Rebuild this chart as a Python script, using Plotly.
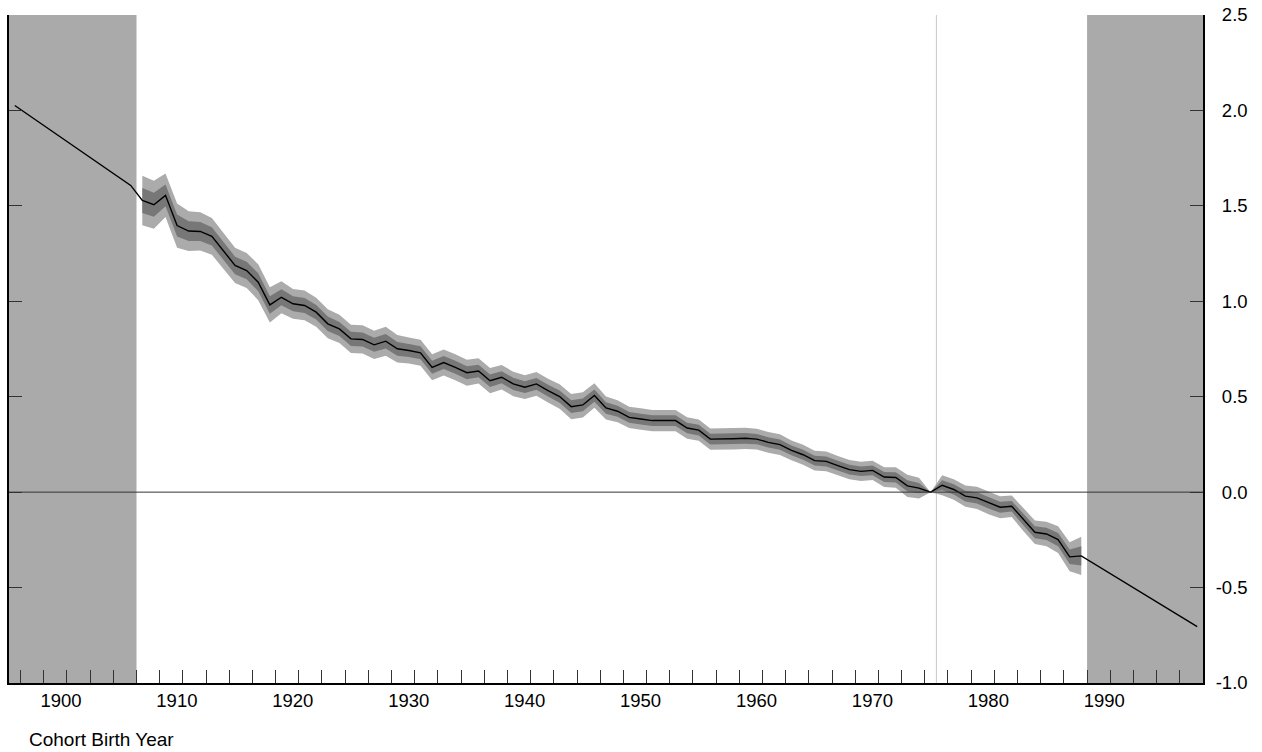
import plotly.graph_objects as go

# ---- data ----
years = list(range(1907, 1989))
estimate = [
    1.528, 1.506, 1.555, 1.397, 1.368, 1.366, 1.340, 1.266, 1.188, 1.161,
    1.100, 0.981, 1.021, 0.987, 0.978, 0.943, 0.882, 0.855, 0.803, 0.800,
    0.772, 0.791, 0.751, 0.742, 0.730, 0.654, 0.679, 0.654, 0.626, 0.635,
    0.584, 0.602, 0.567, 0.550, 0.567, 0.532, 0.501, 0.448, 0.457, 0.506,
    0.441, 0.424, 0.392, 0.383, 0.375, 0.375, 0.375, 0.336, 0.325, 0.278,
    0.278, 0.280, 0.282, 0.278, 0.261, 0.249, 0.219, 0.196, 0.165, 0.161,
    0.139, 0.118, 0.109, 0.114, 0.079, 0.077, 0.033, 0.021, 0.000, 0.036,
    0.014, -0.021, -0.030, -0.056, -0.079, -0.074, -0.144, -0.210, -0.219, -0.249,
    -0.339, -0.334,
]
std_err = [
    0.065, 0.063, 0.057, 0.058, 0.052, 0.050, 0.048, 0.047, 0.046, 0.046,
    0.047, 0.046, 0.042, 0.039, 0.039, 0.038, 0.038, 0.037, 0.037, 0.037,
    0.037, 0.038, 0.036, 0.034, 0.034, 0.034, 0.034, 0.034, 0.034, 0.033,
    0.033, 0.032, 0.032, 0.031, 0.031, 0.031, 0.032, 0.033, 0.033, 0.032,
    0.030, 0.029, 0.028, 0.028, 0.028, 0.028, 0.028, 0.028, 0.028, 0.028,
    0.028, 0.028, 0.028, 0.027, 0.027, 0.027, 0.026, 0.026, 0.026, 0.026,
    0.025, 0.025, 0.025, 0.025, 0.026, 0.027, 0.029, 0.027, 0.000, 0.026,
    0.027, 0.028, 0.029, 0.030, 0.029, 0.028, 0.030, 0.031, 0.032, 0.035,
    0.038, 0.050,
]
# extrapolated segments outside the estimation window
left_years = [1896, 1906]
left_values = [2.026, 1.607]
right_years = [1998]
right_values = [-0.705]

shade_left = (1895.5, 1906.5)
shade_right = (1988.5, 1998.5)
ref_year = 1975.5

x_range = [1895.5, 1998.5]
y_range = [-1.0, 2.5]
y_ticks = [2.5, 2.0, 1.5, 1.0, 0.5, 0.0, -0.5, -1.0]
x_label_years = list(range(1900, 1991, 10))
x_tick_years = [y + 0.5 for y in range(1896, 1997, 2)]

# ---- figure ----
fig = go.Figure()

outer_hi = [e + 2 * s for e, s in zip(estimate, std_err)]
outer_lo = [e - 2 * s for e, s in zip(estimate, std_err)]
inner_hi = [e + s for e, s in zip(estimate, std_err)]
inner_lo = [e - s for e, s in zip(estimate, std_err)]

fig.add_trace(go.Scatter(x=years, y=outer_hi, mode="lines", line=dict(width=0),
                         hoverinfo="skip", showlegend=False))
fig.add_trace(go.Scatter(x=years, y=outer_lo, mode="lines", line=dict(width=0),
                         fill="tonexty", fillcolor="#ABABAB",
                         hoverinfo="skip", showlegend=False))
fig.add_trace(go.Scatter(x=years, y=inner_hi, mode="lines", line=dict(width=0),
                         hoverinfo="skip", showlegend=False))
fig.add_trace(go.Scatter(x=years, y=inner_lo, mode="lines", line=dict(width=0),
                         fill="tonexty", fillcolor="#777777",
                         hoverinfo="skip", showlegend=False))

line_x = left_years + years + right_years
line_y = left_values + estimate + right_values
fig.add_trace(go.Scatter(x=line_x, y=line_y, mode="lines",
                         line=dict(color="black", width=1.4), showlegend=False))

# shaded out-of-sample regions
for x0, x1 in (shade_left, shade_right):
    fig.add_shape(type="rect", xref="x", yref="y", x0=x0, x1=x1,
                  y0=y_range[0], y1=y_range[1], fillcolor="#AAAAAA",
                  line=dict(width=0), layer="below")
# reference year line
fig.add_shape(type="line", xref="x", yref="y", x0=ref_year, x1=ref_year,
              y0=y_range[0], y1=y_range[1], line=dict(color="#C8C8C8", width=1),
              layer="below")
# zero line
fig.add_shape(type="line", xref="x", yref="y", x0=x_range[0], x1=x_range[1],
              y0=0, y1=0, line=dict(color="#333333", width=1), layer="above")

x_tickvals = x_tick_years
x_ticktext = [str(int(v - 0.5)) if int(v - 0.5) in x_label_years else "" for v in x_tick_years]

y_ticktext = [("\u2004" if v >= 0 else "") + f"{v:.1f}" for v in y_ticks]

font = dict(family="Liberation Sans, Arial, sans-serif", size=19, color="black")
tick_font = dict(family="Liberation Sans, Arial, sans-serif", size=18.5, color="black")

fig.update_layout(
    width=1262, height=752,
    margin=dict(l=9, r=59, t=15, b=69, autoexpand=False),
    paper_bgcolor="white", plot_bgcolor="white",
    font=font,
    showlegend=False,
    xaxis=dict(
        range=x_range, showgrid=False, zeroline=False, automargin=False,
        showline=True, linecolor="black", linewidth=2,
        ticks="inside", ticklen=13, tickcolor="#333333", tickwidth=1,
        tickmode="array", tickvals=x_tickvals, ticktext=x_ticktext,
        ticklabelshift=-6, tickfont=tick_font,
    ),
    yaxis=dict(
        range=y_range, side="right", showgrid=False, zeroline=False, automargin=False,
        showline=True, linecolor="black", linewidth=2, mirror="ticks",
        ticks="inside", ticklen=13, tickcolor="#333333", tickwidth=1,
        tickmode="array", tickvals=y_ticks, ticktext=y_ticktext,
        ticklabelstandoff=7, tickfont=tick_font,
    ),
    annotations=[dict(
        text="Cohort Birth Year", xref="paper", yref="paper",
        x=0.0151, y=-0.0853, xanchor="left", yanchor="middle",
        showarrow=False, font=font,
    )],
)

fig.write_html("out.html", config={"displayModeBar": False},
               post_script="document.body.style.margin='0';")
